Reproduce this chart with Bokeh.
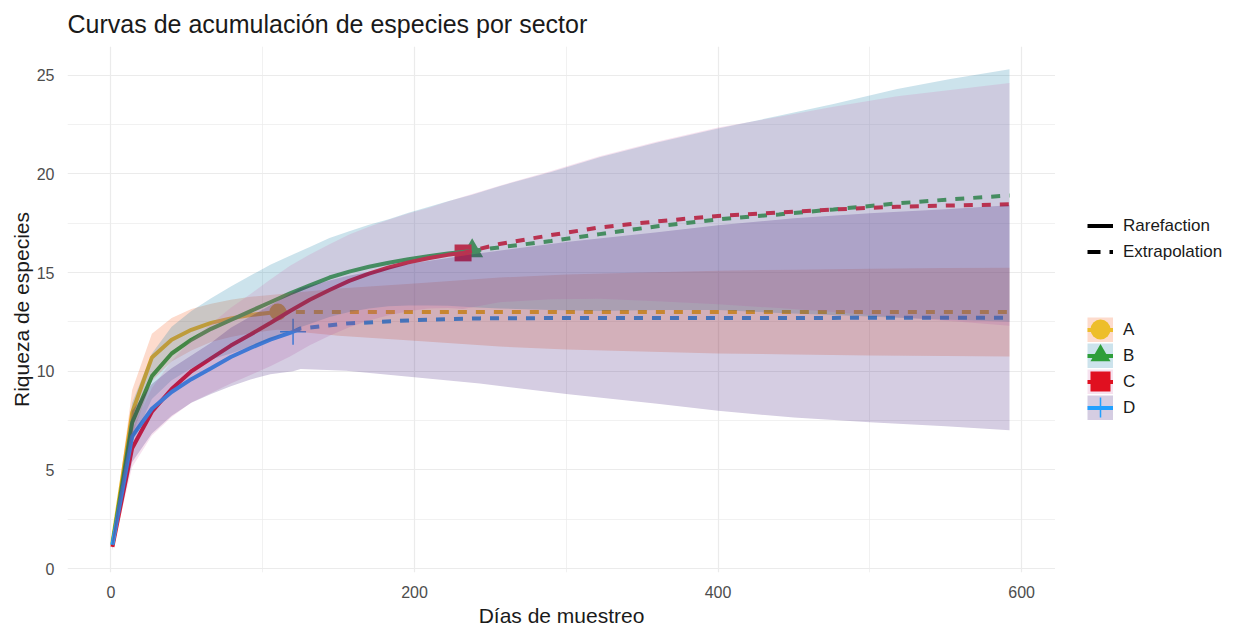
from bokeh.plotting import figure
from bokeh.layouts import row
from bokeh.models import Range1d, FixedTicker, Legend, LegendItem
from bokeh.embed import file_html
from bokeh.resources import INLINE

FONT = "Liberation Sans"
NAN = float("nan")

sectors = ["A", "B", "C", "D"]
line_colors = ["#EDBE2A", "#2E9E3A", "#E01020", "#22A0FF"]
fill_colors = ["#F54B05", "#0073A0", "#D270B0", "#2D056E"]
markers = ["circle", "triangle", "square", "cross"]
RIBBON_ALPHA = 0.2

# --- Sector A -------------------------------------------------------------
a_x = [1, 14, 27, 40, 53, 66, 79, 92, 105, 110]
a_y = [1.3, 7.9, 10.7, 11.6, 12.1, 12.45, 12.68, 12.85, 12.97, 13.0]
a_lo = [1.1, 6.75, 9.5, 10.5, 11.05, 11.48, 11.73, 11.93, 12.07, 12.1]
a_hi = [1.5, 9.05, 11.9, 12.7, 13.15, 13.42, 13.63, 13.77, 13.87, 13.9]
a_ext_x = [110, 150, 200, 256, 300, 350, 400, 450, 500, 550, 592]
a_ext_y = [13.0, 13.0, 13.0, 13.0, 13.0, 13.0, 13.0, 13.0, 13.0, 13.0, 13.0]
a_ext_lo = [12.1, 11.8, 11.55, 11.25, 11.1, 11.0, 10.9, 10.85, 10.8, 10.77, 10.75]
a_ext_hi = [13.9, 14.2, 14.45, 14.75, 14.9, 15.0, 15.1, 15.15, 15.2, 15.23, 15.25]

# --- Sector B -------------------------------------------------------------
b_x = [1, 14, 27, 40, 53, 66, 79, 92, 105, 118, 131, 144, 157, 170, 183, 196, 209, 222, 238]
b_y = [1.2, 7.4, 9.75, 10.9, 11.6, 12.15, 12.6, 13.05, 13.5, 13.95, 14.35, 14.75, 15.05, 15.3,
       15.5, 15.68, 15.83, 15.97, 16.1]
b_lo = [1.0, 6.4, 8.6, 9.55, 10.15, 10.6, 10.9, 11.25, 11.6, 12.05, 12.4, 12.75, 13.0, 13.18,
        13.3, 13.33, 13.33, 13.32, 13.25]
b_hi = [1.4, 8.4, 10.9, 12.25, 13.05, 13.7, 14.3, 14.85, 15.4, 15.85, 16.3, 16.75, 17.1, 17.42,
        17.7, 18.03, 18.33, 18.62, 18.95]
b_ext_x = [238, 256, 290, 322, 360, 400, 440, 476, 518, 553, 592]
b_ext_y = [16.1, 16.28, 16.6, 16.95, 17.35, 17.7, 17.95, 18.2, 18.51, 18.71, 18.91]
b_ext_lo = [13.25, 13.18, 13.1, 13.05, 13.1, 13.1, 12.95, 12.85, 12.71, 12.61, 12.51]
b_ext_hi = [18.95, 19.38, 20.1, 20.85, 21.6, 22.3, 22.95, 23.55, 24.31, 24.81, 25.31]

# --- Sector C -------------------------------------------------------------
c_x = [1, 14, 27, 40, 53, 66, 79, 92, 105, 118, 131, 144, 157, 170, 183, 196, 209, 222, 232]
c_y = [1.1, 6.1, 7.95, 9.1, 10.0, 10.65, 11.3, 11.86, 12.45, 13.05, 13.62, 14.12, 14.58, 14.95,
       15.26, 15.52, 15.73, 15.9, 16.0]
c_lo = [0.9, 5.15, 6.75, 7.68, 8.42, 8.9, 9.38, 9.81, 10.25, 10.75, 11.32, 11.8, 12.23, 12.57,
        12.84, 13.04, 13.18, 13.2, 13.15]
c_hi = [1.3, 7.05, 9.15, 10.52, 11.58, 12.4, 13.22, 13.91, 14.65, 15.35, 15.92, 16.44, 16.93,
        17.33, 17.68, 18.0, 18.28, 18.6, 18.85]
c_ext_x = [232, 256, 290, 322, 360, 400, 440, 476, 518, 553, 592]
c_ext_y = [16.0, 16.45, 16.9, 17.29, 17.6, 17.87, 18.05, 18.2, 18.34, 18.4, 18.46]
c_ext_lo = [13.15, 13.5, 13.65, 13.68, 13.55, 13.39, 13.2, 13.0, 12.74, 12.55, 12.31]
c_ext_hi = [18.85, 19.4, 20.15, 20.9, 21.65, 22.35, 22.9, 23.4, 23.94, 24.25, 24.61]

# --- Sector D -------------------------------------------------------------
d_x = [1, 14, 27, 40, 53, 66, 79, 92, 105, 120]
d_y = [1.2, 6.7, 8.1, 8.95, 9.6, 10.15, 10.72, 11.18, 11.6, 12.0]
d_lo = [1.0, 5.4, 6.85, 7.75, 8.4, 8.85, 9.24, 9.58, 9.85, 10.0]
d_hi = [1.4, 8.0, 9.35, 10.15, 10.8, 11.45, 12.2, 12.78, 13.35, 14.0]
d_ext_x = [120, 125, 155, 200, 243, 300, 360, 400, 450, 500, 550, 592]
d_ext_y = [12.0, 12.17, 12.42, 12.59, 12.68, 12.7, 12.7, 12.7, 12.7, 12.71, 12.71, 12.71]
d_ext_lo = [10.0, 10.12, 10.02, 9.69, 9.38, 8.85, 8.35, 8.0, 7.65, 7.41, 7.21, 7.01]
d_ext_hi = [14.0, 14.22, 14.82, 15.49, 15.98, 16.55, 17.05, 17.4, 17.75, 18.01, 18.21, 18.41]

x_ticks = [0, 200, 400, 600]
y_ticks = [0, 5, 10, 15, 20, 25]

rare = {
    "A": (a_x, a_y, a_lo, a_hi),
    "B": (b_x, b_y, b_lo, b_hi),
    "C": (c_x, c_y, c_lo, c_hi),
    "D": (d_x, d_y, d_lo, d_hi),
}
extra = {
    "A": (a_ext_x, a_ext_y, a_ext_lo, a_ext_hi),
    "B": (b_ext_x, b_ext_y, b_ext_lo, b_ext_hi),
    "C": (c_ext_x, c_ext_y, c_ext_lo, c_ext_hi),
    "D": (d_ext_x, d_ext_y, d_ext_lo, d_ext_hi),
}

# ---------------------------------------------------------------- main plot
p = figure(
    width=1055, height=629, output_backend="svg", toolbar_location=None,
    x_range=Range1d(-28.6, 622.3), y_range=Range1d(-0.2, 26.46),
    min_border_left=67, min_border_right=0, min_border_top=46, min_border_bottom=53,
    title="Curvas de acumulación de especies por sector",
)
p.outline_line_color = None
p.background_fill_color = "white"
p.border_fill_color = "white"

p.title.text_font = FONT
p.title.text_font_size = "25px"
p.title.text_font_style = "normal"
p.title.text_color = "#1A1A1A"
p.title.align = "left"
p.title.vertical_align = "middle"
p.title.standoff = 15

p.xaxis.ticker = FixedTicker(ticks=x_ticks, minor_ticks=[100, 300, 500])
p.yaxis.ticker = FixedTicker(ticks=y_ticks, minor_ticks=[2.5, 7.5, 12.5, 17.5, 22.5])
p.xaxis.axis_label = "Días de muestreo"
p.yaxis.axis_label = "Riqueza de especies"
for ax in (p.xaxis, p.yaxis):
    ax.axis_line_color = None
    ax.major_tick_line_color = None
    ax.minor_tick_line_color = None
    ax.major_label_text_font = FONT
    ax.major_label_text_font_size = "16px"
    ax.major_label_text_color = "#4D4D4D"
    ax.axis_label_text_font = FONT
    ax.axis_label_text_font_size = "21px"
    ax.axis_label_text_font_style = "normal"
    ax.axis_label_text_color = "#1A1A1A"
p.xaxis.major_label_standoff = 7
p.xaxis.axis_label_standoff = 3
p.yaxis.major_label_standoff = 7
p.yaxis.axis_label_standoff = 1

for g in (p.xgrid, p.ygrid):
    g.grid_line_color = "#EBEBEB"
    g.grid_line_width = 1.2
    g.minor_grid_line_color = "#EBEBEB"
    g.minor_grid_line_width = 0.7

# observed-sample markers (drawn first, under the lines and ribbons)
p.ellipse(x=[a_x[-1]], y=[a_y[-1]], width=17, height=17, width_units="screen",
          height_units="screen", fill_color=line_colors[0], line_color=None)
p.scatter(x=[b_x[-1]], y=[b_y[-1]], marker="triangle", size=22,
          fill_color=line_colors[1], line_color=None)
p.rect(x=[c_x[-1]], y=[c_y[-1]], width=17, height=17, width_units="screen",
       height_units="screen", fill_color=line_colors[2], line_color=None)
p.scatter(x=[d_x[-1]], y=[d_y[-1]], marker="cross", size=26,
          line_color=line_colors[3], line_width=1.5)

# rarefaction (solid) and extrapolation (dashed) curves
for s, col in zip(sectors, line_colors):
    x, y, _, _ = rare[s]
    ex, ey, _, _ = extra[s]
    p.line(x, y, line_color=col, line_width=4)
    p.line(ex, ey, line_color=col, line_width=4, line_dash="9 9", line_cap="butt")

# confidence ribbons on top
for s, fc in zip(sectors, fill_colors):
    x, _, lo, hi = rare[s]
    ex, _, elo, ehi = extra[s]
    p.varea(x=x + ex[1:], y1=lo + elo[1:], y2=hi + ehi[1:], fill_color=fc,
            fill_alpha=RIBBON_ALPHA)

# ------------------------------------------------------------- legend panel
leg = figure(
    width=178, height=629, output_backend="svg", toolbar_location=None,
    x_range=Range1d(0, 1), y_range=Range1d(0, 1),
    x_axis_type=None, y_axis_type=None, min_border=0,
)
leg.outline_line_color = None
leg.grid.visible = False

ROW = 26           # legend row pitch (px)
TOP_BOTTOM = 152   # bottom of the line-type / sector legend, above the frame bottom

# key glyphs hold a single undefined point, so only their legend swatches show
solid_key = leg.line(x=[NAN], y=[NAN], line_color="#000000", line_width=4)
dash_key = leg.line(x=[NAN], y=[NAN], line_color="#000000", line_width=4, line_dash="13 9",
                    line_cap="butt")
gap_key = leg.line(x=[NAN], y=[NAN], line_alpha=0)
sector_items = []
marker_legends = []
for i, (s, col, fc, mk) in enumerate(zip(sectors, line_colors, fill_colors, markers)):
    box = leg.line(x=[NAN], y=[NAN], line_color=fc, line_alpha=RIBBON_ALPHA, line_width=25,
                   line_cap="butt")
    ln = leg.line(x=[NAN], y=[NAN], line_color=col, line_width=4)
    sector_items.append(LegendItem(label=s, renderers=[box, ln]))
    if mk == "cross":
        m = leg.scatter(x=[NAN], y=[NAN], marker=mk, line_color=col, line_width=1.5)
    else:
        m = leg.scatter(x=[NAN], y=[NAN], marker=mk, fill_color=col, line_color=None)
    # one 50 px swatch per sector, centred on its row, so the point shape is 20 px
    ml = Legend(items=[LegendItem(label=" ", renderers=[m])],
                location=(20, TOP_BOTTOM + ROW * (len(sectors) - 1 - i) - 12))
    ml.glyph_width = 50
    ml.glyph_height = 50
    ml.label_height = 50
    ml.label_standoff = 0
    ml.label_text_font_size = "1px"
    marker_legends.append(ml)

legend = Legend(items=[
    LegendItem(label="Rarefaction", renderers=[solid_key]),
    LegendItem(label="Extrapolation", renderers=[dash_key]),
    LegendItem(label=" ", renderers=[gap_key]),
    LegendItem(label=" ", renderers=[gap_key]),
] + sector_items, location=(32, TOP_BOTTOM))
legend.glyph_width = 26
legend.glyph_height = 25
legend.label_height = 25
legend.label_standoff = 10
legend.spacing = ROW - 25
legend.label_text_font = FONT
legend.label_text_font_size = "17px"
legend.label_text_color = "#1A1A1A"

for lg in [legend] + marker_legends:
    lg.border_line_color = None
    lg.background_fill_alpha = 0
    lg.padding = 0
    lg.margin = 0
    leg.add_layout(lg)

layout = row(p, leg)
open("out.html", "w").write(file_html(layout, INLINE))
